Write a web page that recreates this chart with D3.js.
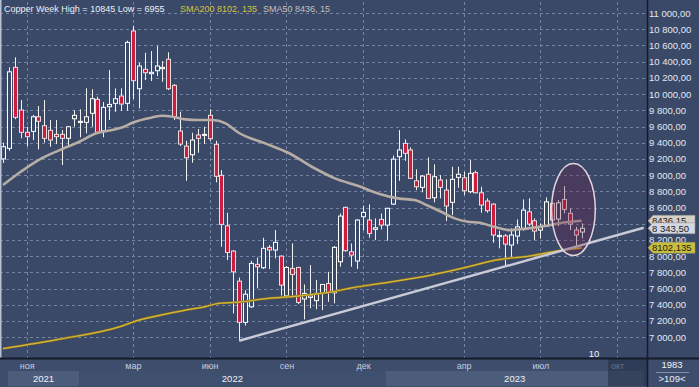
<!DOCTYPE html>
<html>
<head>
<meta charset="utf-8">
<script src="https://cdn.jsdelivr.net/npm/d3@7"></script>
<style>
  html, body { margin: 0; padding: 0; background: #3a4968; }
  svg { display: block; font-family: "Liberation Sans", Arial, sans-serif; }
</style>
</head>
<body>
<div id="container"></div>
<script>
const WIDTH = 699;
const HEIGHT = 387;
const PLOT_RIGHT = 647;
const PLOT_BOTTOM = 358;

// weekly candles, first one = week of 4 Oct 2021
const opens = [9200, 9330, 10330, 9803, 9528, 9540, 9720, 9610, 9553, 9503,
  9503, 9454, 9696, 9650, 9651, 9763, 9935, 9548, 9844, 9886,
  9976, 9886, 10779, 10066, 10306, 10252, 10289, 10313, 10430, 10108,
  9544, 9358, 9251, 9495, 9491, 9738, 9380, 8997, 8374, 8062,
  7691, 7182, 7374, 7898, 7856, 8108, 8075, 8000, 7510, 7848,
  7860, 7470, 7490, 7450, 7540, 7662, 7547, 7930, 8602, 8053,
  7939, 8486, 8445, 8330, 8453, 8383, 8642, 9227, 9392, 9310,
  8930, 8849, 9010, 8720, 8939, 8815, 8664, 8972, 8967, 8795,
  9030, 8782, 8680, 8642, 8240, 8250, 8136, 8247, 8342, 8547,
  8436, 8321, 8370, 8651, 8457, 8700, 8528, 8321, 8297];
const highs = [9400, 10330, 10454, 9926, 9597, 9742, 9852, 9926, 9680, 9680,
  9556, 9605, 9803, 9812, 10071, 10059, 9968, 9902, 10297, 10071,
  10071, 10660, 10845, 10388, 10511, 10532, 10594, 10408, 10516, 10124,
  9782, 9424, 9523, 9569, 9597, 9812, 9424, 9062, 8535, 8075,
  7735, 7580, 7942, 7983, 8226, 8136, 8321, 8010, 7877, 8157,
  7868, 7650, 7889, 7704, 7654, 7806, 8124, 8527, 8610, 8156,
  8457, 8622, 8639, 8466, 8527, 8597, 9240, 9556, 9442, 9343,
  9071, 9001, 9219, 9133, 9001, 8948, 9103, 9103, 9042, 9186,
  9054, 8856, 8713, 8651, 8313, 8272, 8342, 8453, 8700, 8713,
  8466, 8404, 8725, 8660, 8692, 8864, 8590, 8362, 8404];
const lows = [9150, 9300, 9690, 9454, 9358, 9432, 9318, 9400, 9350, 9383,
  9124, 9350, 9597, 9466, 9516, 9597, 9516, 9466, 9680, 9782,
  9795, 9795, 9939, 9824, 10174, 10161, 10223, 10153, 10050, 9680,
  9358, 8930, 9152, 9276, 9383, 9424, 8910, 8115, 7951, 7293,
  6955, 7142, 7362, 7601, 7840, 7840, 7972, 7513, 7498, 7510,
  7407, 7218, 7356, 7343, 7333, 7436, 7416, 7869, 8054, 7868,
  7840, 8321, 8227, 8198, 8330, 8189, 8630, 8930, 9177, 8951,
  8815, 8787, 8705, 8664, 8713, 8432, 8506, 8844, 8754, 8775,
  8775, 8535, 8535, 8165, 8095, 7889, 7984, 8148, 8313, 8370,
  8198, 8218, 8362, 8370, 8370, 8528, 8321, 8095, 8218];
const closes = [9350, 10275, 9713, 9528, 9474, 9720, 9664, 9454, 9433, 9474,
  9454, 9597, 9738, 9664, 9720, 9943, 9528, 9837, 9873, 9943,
  9877, 10638, 10165, 10347, 10264, 10269, 10347, 10330, 10066, 9720,
  9383, 9214, 9433, 9454, 9503, 9449, 8985, 8392, 8045, 7806,
  7182, 7530, 7910, 7868, 8096, 8075, 8170, 7642, 7860, 7774,
  7428, 7540, 7510, 7540, 7650, 7550, 8108, 8494, 8067, 8012,
  8445, 8540, 8280, 8350, 8383, 8590, 9197, 9310, 9269, 8960,
  8856, 8988, 8713, 8980, 8849, 8618, 8948, 9010, 8807, 9022,
  8782, 8630, 8560, 8260, 8255, 8148, 8260, 8362, 8568, 8395,
  8309, 8354, 8670, 8445, 8658, 8577, 8395, 8260, 8343.5];

// moving averages read at some candle indexes
const sma50Idx = [0, 3, 6, 9.6, 12.9, 15.8, 18.5, 20.5, 21.9, 25.3, 27, 28.7, 30.9, 33.2, 35.4, 37.7, 39.9,
  44.4, 48.3, 52.3, 56.2, 60.2, 63.5, 66.9, 69.7, 72, 74.2, 76.5, 78.7, 80.7, 83.5, 85.7, 88, 90.2, 92.5, 94.7, 98];
const sma50Val = [8877, 9041, 9186, 9309, 9412, 9516, 9556, 9597, 9646, 9713, 9733, 9721, 9688, 9680, 9680, 9639, 9523,
  9392, 9276, 9103, 8960, 8865, 8774, 8713, 8692, 8621, 8547, 8466, 8424, 8411, 8355, 8321, 8334, 8355, 8382, 8411, 8436.15];
const sma200Idx = [0, 9.6, 19.7, 23, 28.1, 30.9, 34.3, 36.5, 39.9, 44.6, 50.3, 55.9, 59.3, 64, 72.5, 78.2, 83.4, 89.1, 94.7, 98];
const sma200Val = [6858, 6975, 7127, 7210, 7292, 7333, 7377, 7416, 7432, 7475, 7510, 7562, 7611, 7663, 7766, 7858, 7951, 8000, 8074, 8102.135];

// trend line and highlight ellipse (index, price)
const trendIdx = [40, 108.5];
const trendVal = [6955, 8350];
const ellipseIdx = 96.6, ellipseVal = 8574, ellipseIdxR = 3.7, ellipseValR = 568;

const monthIdx = [4, 22, 35, 48, 61, 78, 91, 104];
const monthLabels = ['ноя', 'мар', 'июн', 'сен', 'дек', 'апр', 'июл', 'окт'];
const yearLabels = ['2021', '2022', '2023'];
const yearFrom = [0.85, 12.9, 64.8];
const yearTo = [12.9, 64.8, 108.5];

// 8 400 sits under the value tags, so it is not printed
const priceTicks = d3.range(7000, 11001, 200);
const priceLabels = priceTicks.filter(d => d !== 8400);

const locale = d3.formatLocale({ decimal: ',', thousands: '\u00a0', grouping: [3], currency: ['', ''] });
const fmt = locale.format(',.2f');

const BG = '#3a4968';

const svg = d3.select('#container')
              .append('svg')
                .attr('width', WIDTH)
                .attr('height', HEIGHT);

svg.append('rect').attr('width', WIDTH).attr('height', HEIGHT).attr('fill', BG);

const x = d3.scaleLinear().domain([0, 98]).range([3, 581.7]);
const y = d3.scaleLinear().domain([7000, 11000]).range([337.1, 13.1]);

// grid
const grid = svg.append('g').attr('stroke', '#7283a3').attr('stroke-dasharray', '3,3').attr('stroke-width', 1);
grid.selectAll('.h')
    .data(priceTicks)
    .enter()
    .append('line')
      .attr('x1', 0).attr('x2', PLOT_RIGHT)
      .attr('y1', d => Math.round(y(d)) + 0.5)
      .attr('y2', d => Math.round(y(d)) + 0.5);
grid.selectAll('.v')
    .data(monthIdx.filter(d => x(d) < PLOT_RIGHT))
    .enter()
    .append('line')
      .attr('y1', 2).attr('y2', PLOT_BOTTOM)
      .attr('x1', d => Math.round(x(d)) + 0.5)
      .attr('x2', d => Math.round(x(d)) + 0.5);

// candles
const candles = svg.append('g').selectAll('g')
                   .data(d3.range(opens.length))
                   .enter()
                   .append('g');

candles.append('line')
         .attr('x1', i => Math.round(x(i)) + 0.5)
         .attr('x2', i => Math.round(x(i)) + 0.5)
         .attr('y1', i => y(highs[i]))
         .attr('y2', i => y(lows[i]))
         .attr('stroke', '#f2f2f2')
         .attr('stroke-width', 1);

candles.append('rect')
         .attr('x', i => Math.round(x(i)) - 1.5)
         .attr('width', 4)
         .attr('y', i => y(Math.max(opens[i], closes[i])))
         .attr('height', i => Math.max(1, Math.abs(y(opens[i]) - y(closes[i]))))
         .attr('fill', i => closes[i] >= opens[i] ? BG : '#cc1d3d')
         .attr('stroke', i => closes[i] >= opens[i] ? '#ffffff' : '#eadde2')
         .attr('stroke-width', 1);

// moving averages
const line = d3.line().x(d => x(d[0])).y(d => y(d[1])).curve(d3.curveMonotoneX);

svg.append('path')
     .datum(sma200Idx.map((d, k) => [d, sma200Val[k]]))
     .attr('d', line)
     .attr('fill', 'none')
     .attr('stroke', '#8a7420')
     .attr('stroke-width', 2.4);
svg.append('path')
     .datum(sma200Idx.map((d, k) => [d, sma200Val[k]]))
     .attr('d', line)
     .attr('fill', 'none')
     .attr('stroke', '#d8b838')
     .attr('stroke-width', 1.2);

svg.append('path')
     .datum(sma50Idx.map((d, k) => [d, sma50Val[k]]))
     .attr('d', line)
     .attr('fill', 'none')
     .attr('stroke', '#b7ada5')
     .attr('stroke-width', 2.6);

// trend line
svg.append('line')
     .attr('x1', x(trendIdx[0])).attr('y1', y(trendVal[0]))
     .attr('x2', x(trendIdx[1])).attr('y2', y(trendVal[1]))
     .attr('stroke', '#c9ccd6')
     .attr('stroke-width', 2.4);

// highlight ellipse
svg.append('ellipse')
     .attr('cx', x(ellipseIdx))
     .attr('cy', y(ellipseVal))
     .attr('rx', x(ellipseIdxR) - x(0))
     .attr('ry', y(ellipseVal - ellipseValR) - y(ellipseVal))
     .attr('fill', '#6e1c44')
     .attr('fill-opacity', 0.3)
     .attr('stroke', '#e2d4de')
     .attr('stroke-width', 1.5);

// left border
svg.append('line')
     .attr('x1', 0.75).attr('x2', 0.75).attr('y1', 0).attr('y2', PLOT_BOTTOM)
     .attr('stroke', '#b9c1d2').attr('stroke-width', 1.5);

// title
const title = svg.append('text').attr('y', 11.5).attr('font-size', '9px');
title.append('tspan').attr('x', 4).attr('fill', '#eef1f6').text('Copper Week High = 10845 Low = 6955');
title.append('tspan').attr('x', 180).attr('fill', '#dcc23c').text('SMA200 8102, 135');
title.append('tspan').attr('x', 263).attr('fill', '#c4c0bc').text('SMA50 8436, 15');

svg.append('text')
     .attr('x', 594).attr('y', 357)
     .attr('text-anchor', 'middle')
     .attr('font-size', '9.5px')
     .attr('fill', '#eef1f6')
     .text('10');

// bottom strip
const bottom = svg.append('g');
bottom.append('rect')
        .attr('x', 0).attr('y', PLOT_BOTTOM).attr('width', WIDTH).attr('height', HEIGHT - PLOT_BOTTOM)
        .attr('fill', '#3d4d6b');
bottom.selectAll('.year')
        .data(yearLabels)
        .enter()
        .append('rect')
          .attr('x', (d, k) => x(yearFrom[k]))
          .attr('width', (d, k) => Math.min(x(yearTo[k]), PLOT_RIGHT) - x(yearFrom[k]))
          .attr('y', 371).attr('height', 15)
          .attr('fill', (d, k) => k % 2 === 0 ? '#4c5d7c' : '#3f4f6e');
bottom.selectAll('.ylab')
        .data(yearLabels)
        .enter()
        .append('text')
          .attr('x', (d, k) => (x(yearFrom[k]) + Math.min(x(yearTo[k]), PLOT_RIGHT)) / 2)
          .attr('y', 382)
          .attr('text-anchor', 'middle')
          .attr('font-size', '9.5px')
          .attr('fill', '#eef1f6')
          .text(d => d);

const xAxis = bottom.append('g')
                      .attr('transform', `translate(0, ${PLOT_BOTTOM + 2})`)
                      .call(d3.axisBottom(x).tickValues(monthIdx).tickSize(0)
                              .tickFormat((d, k) => monthLabels[k]));
xAxis.select('.domain').remove();
xAxis.selectAll('text').attr('font-size', '9px').attr('fill', '#c4cde0').attr('font-family', null);

bottom.append('rect')
        .attr('x', 608).attr('y', 359).attr('width', PLOT_RIGHT - 608).attr('height', 27)
        .attr('fill', '#26324a').attr('fill-opacity', 0.6);

bottom.append('line')
        .attr('x1', 0).attr('x2', WIDTH).attr('y1', PLOT_BOTTOM + 0.5).attr('y2', PLOT_BOTTOM + 0.5)
        .attr('stroke', '#141b2a').attr('stroke-width', 2);

bottom.append('text')
        .attr('x', 672).attr('y', 368).attr('text-anchor', 'middle')
        .attr('font-size', '9.5px').attr('fill', '#eef1f6').text('1983');
bottom.append('line')
        .attr('x1', 656).attr('x2', 689).attr('y1', 372.5).attr('y2', 372.5)
        .attr('stroke', '#8090ac').attr('stroke-width', 1);
bottom.append('text')
        .attr('x', 672).attr('y', 382).attr('text-anchor', 'middle')
        .attr('font-size', '9.5px').attr('fill', '#eef1f6').text('>109<');

// right price axis
const yAxis = svg.append('g')
                   .attr('transform', `translate(${PLOT_RIGHT}, 0)`)
                   .call(d3.axisRight(y).tickValues(priceLabels).tickSize(0).tickPadding(2)
                           .tickFormat(d => fmt(d)));
yAxis.select('.domain').remove();
yAxis.selectAll('text').attr('font-size', '9.5px').attr('fill', '#e2e8f2').attr('font-family', null);

svg.append('line')
     .attr('x1', PLOT_RIGHT + 0.5).attr('x2', PLOT_RIGHT + 0.5).attr('y1', 0).attr('y2', HEIGHT)
     .attr('stroke', '#141b2a').attr('stroke-width', 1.5);

// last value tags
const tagVals = [8436.15, 8343.5, 8102.135];
const tagTexts = ['8436,15', fmt(8343.5), '8102,135'];
const tagFills = ['#d6cfc8', '#d3d7e0', '#cbbf3a'];

const tags = svg.append('g').selectAll('g')
                .data(tagVals)
                .enter()
                .append('g')
                  .attr('transform', d => `translate(${PLOT_RIGHT}, ${y(d)})`);
tags.append('path')
      .attr('d', 'M1,0 L6,-5.5 L48,-5.5 L48,5.5 L6,5.5 Z')
      .attr('fill', (d, k) => tagFills[k])
      .attr('stroke', '#8a8a8a')
      .attr('stroke-width', 0.5);
tags.append('text')
      .attr('x', 5).attr('y', 3.5)
      .attr('font-size', '9.5px')
      .attr('fill', '#1a1a1a')
      .text((d, k) => tagTexts[k]);
</script>
</body>
</html>
